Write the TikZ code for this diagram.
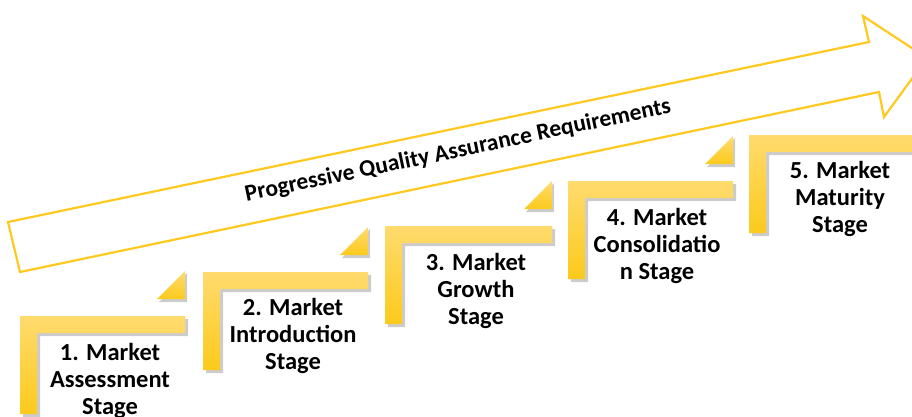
\documentclass[tikz,border=0pt]{standalone}
\usepackage{fontspec}
\setmainfont{Carlito}
\definecolor{arrowgold}{HTML}{FFC91F}
\definecolor{lightgold}{HTML}{FFDB6E}
\definecolor{deepgold}{HTML}{FCCA1C}
\tikzset{
  stepshape/.style={top color=lightgold, bottom color=deepgold, draw=none},
  shadowshape/.style={fill=black, opacity=0.2, draw=none},
  bigarrow/.style={draw=arrowgold, line width=2.2pt, fill=white, line join=miter},
  steptext/.style={anchor=base, inner sep=0pt, font=\bfseries\fontsize{24.5}{27}\selectfont},
  titletext/.style={inner sep=0pt, font=\bfseries\fontsize{23.5}{26}\selectfont},
}
\renewcommand\arraystretch{1}
\begin{document}
\begin{tikzpicture}[x=1pt,y=-1pt]
\useasboundingbox (0,0) rectangle (912,416);
\clip (0,0) rectangle (912,416);
\fill[white] (0,0) rectangle (912,416);
% big arrow
\draw[bigarrow] (8,222) -- (869,42) -- (863,16) -- (927,58) -- (884,117) -- (879,92) -- (20,272) -- cycle;
\node[titletext, rotate=11.8] (title) at (458,151) {Progressive Quality Assurance Requirements};
% steps
\foreach \x/\y/\w in {20/316/165, 203/272/165, 385/226/167, 568/181/165, 749/135/170}{
  \fill[shadowshape] (\x+3,\y+3) -- (\x+\w+3,\y+3) -- (\x+\w+3,\y+20) -- (\x+20,\y+20) -- (\x+20,\y+101) -- (\x+3,\y+101) -- cycle;
  \path[stepshape] (\x,\y) -- (\x+\w,\y) -- (\x+\w,\y+17) -- (\x+17,\y+17) -- (\x+17,\y+98) -- (\x,\y+98) -- cycle;
}
\foreach \r/\y in {185/316, 368/272, 552/226, 733/181}{
  \fill[shadowshape] (\r-26,\y-14) -- (\r+2,\y-14) -- (\r+2,\y-43) -- cycle;
  \path[top color=lightgold, bottom color=deepgold] (\r-28,\y-17) -- (\r,\y-17) -- (\r,\y-45) -- cycle;
}
\node[steptext] (s1) at (110,360) {\begin{tabular}[t]{@{}c@{}}1. Market\\Assessment\\Stage\end{tabular}};
\node[steptext] (s2) at (293,315) {\begin{tabular}[t]{@{}c@{}}2. Market\\Introduction\\Stage\end{tabular}};
\node[steptext] (s3) at (476,270) {\begin{tabular}[t]{@{}c@{}}3. Market\\Growth\\Stage\end{tabular}};
\node[steptext] (s4) at (657,225) {\begin{tabular}[t]{@{}c@{}}4. Market\\Consolidatio\\n Stage\end{tabular}};
\node[steptext] (s5) at (840,178) {\begin{tabular}[t]{@{}c@{}}5. Market\\Maturity\\Stage\end{tabular}};
\end{tikzpicture}
\end{document}
